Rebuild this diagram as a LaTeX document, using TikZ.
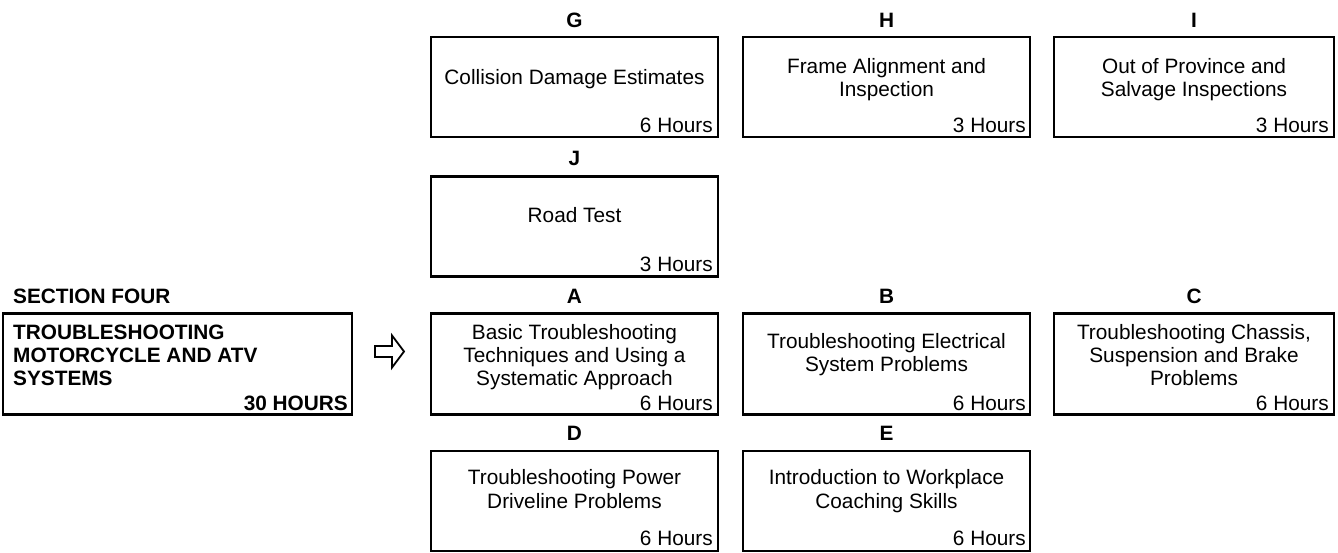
\documentclass[tikz,border=0pt]{standalone}
\usepackage{fontspec}
\setmainfont{Liberation Sans}
\begin{document}
\fontsize{20.8}{23.3}\selectfont
\begin{tikzpicture}[x=1pt,y=-1pt,
  box/.style={draw=black, line width=2.6pt, inner sep=0pt, outer sep=0pt, minimum height=100pt},
  lbl/.style={font=\bfseries, anchor=base, inner sep=0pt},
  txt/.style={anchor=base, inner sep=0pt},
  hrs/.style={anchor=base east, inner sep=0pt},
  btxt/.style={font=\bfseries, anchor=base west, inner sep=0pt},
  blkarrow/.style={draw=black, line width=1.8pt, line join=miter, fill=white}]
\useasboundingbox (0,0) rectangle (1338,552);

% Section box
\node[btxt] (secT) at (13,303) {SECTION FOUR};
\node[box, minimum width=349pt, minimum height=101pt] (S) at (177.5,364) {};
\node[btxt] (S1) at (13,339) {TROUBLESHOOTING};
\node[btxt] (S2) at (13,362) {MOTORCYCLE AND ATV};
\node[btxt] (S3) at (13,385) {SYSTEMS};
\node[hrs, font=\bfseries] (S4) at (348,410) {30 HOURS};

% Arrow
\draw[blkarrow] (375,346) -- (392,346) -- (392,335.5) -- (404,351.5) -- (392,367.5) -- (392,357) -- (375,357) -- cycle;

% Row 1
\node[lbl] (Gl) at (574.5,27) {G};
\node[box, minimum width=287pt] (G) at (574.5,87) {};
\node[txt] (G1) at (574.5,84) {Collision Damage Estimates};
\node[hrs] (Gh) at (713,132) {6 Hours};

\node[lbl] (Hl) at (886.5,27) {H};
\node[box, minimum width=287pt] (H) at (886.5,87) {};
\node[txt] (H1) at (886.5,73) {Frame Alignment and};
\node[txt] (H2) at (886.5,96) {Inspection};
\node[hrs] (Hh) at (1026,132) {3 Hours};

\node[lbl] (Il) at (1194,27) {I};
\node[box, minimum width=280pt] (I) at (1194,87) {};
\node[txt] (I1) at (1194,73) {Out of Province and};
\node[txt] (I2) at (1194,96) {Salvage Inspections};
\node[hrs] (Ih) at (1329,132) {3 Hours};

% Row 2
\node[lbl] (Jl) at (574.5,165) {J};
\node[box, minimum width=287pt] (J) at (574.5,226.5) {};
\node[txt] (J1) at (574.5,222) {Road Test};
\node[hrs] (Jh) at (713,271) {3 Hours};

% Row 3
\node[lbl] (Al) at (574.5,303) {A};
\node[box, minimum width=287pt, minimum height=101pt] (A) at (574.5,364) {};
\node[txt] (A1) at (574.5,339.5) {Basic Troubleshooting};
\node[txt] (A2) at (574.5,362.5) {Techniques and Using a};
\node[txt] (A3) at (574.5,385.5) {Systematic Approach};
\node[hrs] (Ah) at (713,410) {6 Hours};

\node[lbl] (Bl) at (886.5,303) {B};
\node[box, minimum width=287pt, minimum height=101pt] (B) at (886.5,364) {};
\node[txt] (B1) at (886.5,348) {Troubleshooting Electrical};
\node[txt] (B2) at (886.5,371.5) {System Problems};
\node[hrs] (Bh) at (1026,410) {6 Hours};

\node[lbl] (Cl) at (1194,303) {C};
\node[box, minimum width=280pt, minimum height=101pt] (C) at (1194,364) {};
\node[txt] (C1) at (1194,339.5) {Troubleshooting Chassis,};
\node[txt] (C2) at (1194,362.5) {Suspension and Brake};
\node[txt] (C3) at (1194,385.5) {Problems};
\node[hrs] (Ch) at (1329,410) {6 Hours};

% Row 4
\node[lbl] (Dl) at (574.5,440) {D};
\node[box, minimum width=287pt] (D) at (574.5,501) {};
\node[txt] (D1) at (574.5,484.5) {Troubleshooting Power};
\node[txt] (D2) at (574.5,508) {Driveline Problems};
\node[hrs] (Dh) at (713,545.5) {6 Hours};

\node[lbl] (El) at (886.5,440) {E};
\node[box, minimum width=287pt] (E) at (886.5,501) {};
\node[txt] (E1) at (886.5,484.5) {Introduction to Workplace};
\node[txt] (E2) at (886.5,508) {Coaching Skills};
\node[hrs] (Eh) at (1026,545.5) {6 Hours};
\end{tikzpicture}
\end{document}
